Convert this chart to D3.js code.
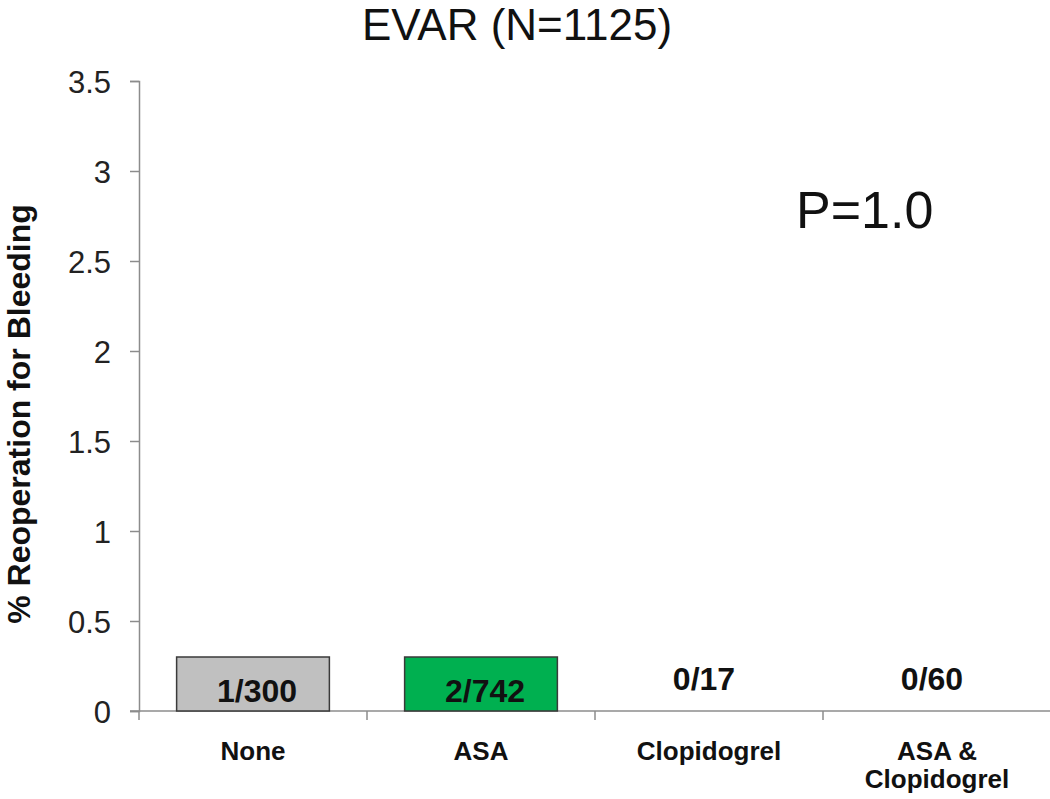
<!DOCTYPE html>
<html>
<head>
<meta charset="utf-8">
<script src="https://cdn.jsdelivr.net/npm/d3@7"></script>
<style>
  body { margin: 0; background: #fff; }
  text { font-family: Arial, "Liberation Sans", sans-serif; }
</style>
</head>
<body>
<script>
// data
let categories = ["None", "ASA", "Clopidogrel", "ASA & Clopidogrel"];
let values = [0.3, 0.3, 0, 0];
let counts = ["1/300", "2/742", "0/17", "0/60"];
let colors = ["#c0c0c0", "#00b050", "#c0c0c0", "#c0c0c0"];
let yTicks = [0, 0.5, 1, 1.5, 2, 2.5, 3, 3.5];

const width = 1050;
const height = 799;

var svg = d3.select("body")
    .append("svg")
    .attr("width", width)
    .attr("height", height);

const y = d3.scaleLinear().domain([0, 3.5]).range([711, 81]);
const x = d3.scaleBand().domain(categories).range([139, 1051]).paddingInner(0.33).paddingOuter(0.165);

// y axis
const yAxis = d3.axisLeft(y).tickValues(yTicks).tickSize(9).tickFormat(d3.format("~g"));
const gy = svg.append("g").attr("transform", "translate(139,0)").call(yAxis);
gy.select(".domain").attr("stroke", "#8c8c8c").attr("stroke-width", 1.5);
gy.selectAll(".tick line").attr("stroke", "#8c8c8c").attr("stroke-width", 1.5);
gy.selectAll(".tick text")
    .attr("x", -28)
    .attr("dy", "0.36em")
    .attr("font-size", 31)
    .attr("fill", "#222")
    .attr("font-family", "Arial, 'Liberation Sans', sans-serif");

// x axis line + ticks at band edges
svg.append("line")
    .attr("x1", 130).attr("x2", 1050)
    .attr("y1", y(0)).attr("y2", y(0))
    .attr("stroke", "#8c8c8c").attr("stroke-width", 1.5);

const step = x.step();
const edges = d3.range(categories.length + 1).map(i => 139 + i * step);
svg.selectAll(".xtick")
    .data(edges)
    .enter()
    .append("line")
    .attr("x1", d => d).attr("x2", d => d)
    .attr("y1", y(0)).attr("y2", y(0) + 9)
    .attr("stroke", "#8c8c8c").attr("stroke-width", 1.5);

// bars
svg.selectAll(".bar")
    .data(categories.filter((c, i) => values[i] > 0))
    .enter()
    .append("rect")
    .attr("x", d => x(d))
    .attr("width", x.bandwidth())
    .attr("y", d => y(values[categories.indexOf(d)]))
    .attr("height", d => y(0) - y(values[categories.indexOf(d)]))
    .attr("fill", d => colors[categories.indexOf(d)])
    .attr("stroke", "#3a3a3a")
    .attr("stroke-width", 1.5);

// count labels (inside bars sit a bit lower than the empty ones)
svg.selectAll(".count")
    .data(categories)
    .enter()
    .append("text")
    .attr("x", (d, i) => x(d) + x.bandwidth() / 2 + (values[i] > 0 ? 4 : -5))
    .attr("y", (d, i) => values[i] > 0 ? 702 : 690)
    .attr("text-anchor", "middle")
    .attr("font-size", 32)
    .attr("font-weight", "bold")
    .attr("fill", "#111")
    .text((d, i) => counts[i]);

// category labels
svg.selectAll(".cat")
    .data(categories)
    .enter()
    .append("text")
    .attr("x", d => x(d) + x.bandwidth() / 2)
    .attr("y", 760)
    .attr("text-anchor", "middle")
    .attr("font-size", 26)
    .attr("font-weight", "bold")
    .attr("fill", "#111")
    .each(function(d) {
        const t = d3.select(this);
        if (d == "ASA & Clopidogrel") {
            t.append("tspan").attr("x", x(d) + x.bandwidth() / 2).text("ASA &");
            t.append("tspan").attr("x", x(d) + x.bandwidth() / 2).attr("dy", 28).text("Clopidogrel");
        } else {
            t.text(d);
        }
    });

// title
svg.append("text")
    .attr("x", 517).attr("y", 40)
    .attr("text-anchor", "middle")
    .attr("font-size", 44)
    .attr("fill", "#111")
    .text("EVAR (N=1125)");

// p value
svg.append("text")
    .attr("x", 796).attr("y", 228)
    .attr("font-size", 52)
    .attr("fill", "#111")
    .text("P=1.0");

// y label
svg.append("text")
    .attr("transform", "translate(30,414) rotate(-90)")
    .attr("text-anchor", "middle")
    .attr("font-size", 32)
    .attr("font-weight", "bold")
    .attr("fill", "#111")
    .text("% Reoperation for Bleeding");
</script>
</body>
</html>
